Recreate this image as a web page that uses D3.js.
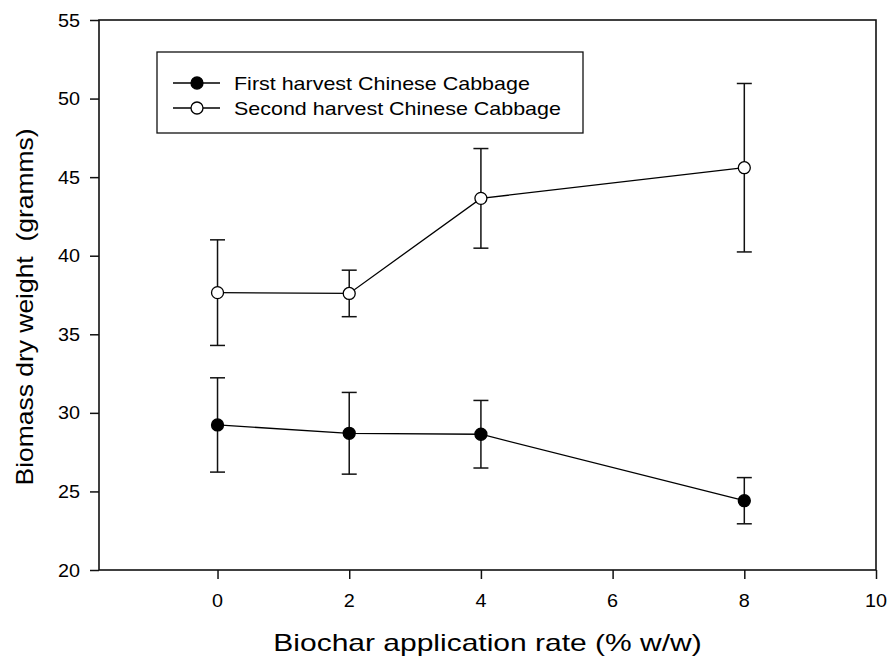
<!DOCTYPE html>
<html>
<head>
<meta charset="utf-8">
<script src="https://cdn.jsdelivr.net/npm/d3@7/dist/d3.min.js"></script>
<style>
  html, body { margin: 0; padding: 0; background: #fff; }
  svg { display: block; font-family: Arial, "Liberation Sans", Helvetica, sans-serif; }
  text { white-space: pre; }
</style>
</head>
<body>
<svg id="chart" width="887" height="658"></svg>
<script>
// Biochar application rates (% w/w)
const rates = [0, 2, 4, 8];

// Mean biomass dry weight (g) and standard deviation per harvest
const firstHarvest = [29.23, 28.7, 28.64, 24.41];
const firstHarvestSd = [3.0, 2.6, 2.15, 1.47];
const secondHarvest = [37.65, 37.6, 43.65, 45.6];
const secondHarvestSd = [3.36, 1.48, 3.17, 5.36];

const xTicks = [0, 2, 4, 6, 8, 10];
const yTicks = [20, 25, 30, 35, 40, 45, 50, 55];

const seriesNames = ["First harvest Chinese Cabbage", "Second harvest Chinese Cabbage"];

const margin = { left: 99, right: 11, top: 20, bottom: 88 };
const W = 887, H = 658;
const svg = d3.select("#chart");

const x = d3.scaleLinear().domain([-1.8, 10]).range([margin.left, W - margin.right]);
const y = d3.scaleLinear().domain([20, 55]).range([H - margin.bottom, margin.top]);

// Text widened along its own direction, anchored at (px, py), optionally rotated
function wideText(parent, px, py, str, size, sx, anchor, angle) {
  const g = parent.append("g")
    .attr("transform", `translate(${px},${py}) rotate(${angle || 0}) scale(${sx},1)`);
  return g.append("text").attr("x", 0).attr("y", 0)
    .attr("font-size", size).attr("text-anchor", anchor || "start")
    .attr("fill", "#000").text(str);
}

// Frame
svg.append("rect")
  .attr("x", x.range()[0]).attr("y", y.range()[1])
  .attr("width", x.range()[1] - x.range()[0])
  .attr("height", y.range()[0] - y.range()[1])
  .attr("fill", "none").attr("stroke", "#111").attr("stroke-width", 1.6);

// Axes (ticks only, labels drawn separately)
const xAxis = svg.append("g").attr("transform", `translate(0,${y.range()[0]})`)
  .call(d3.axisBottom(x).tickValues(xTicks).tickSize(9).tickFormat(""));
const yAxis = svg.append("g").attr("transform", `translate(${x.range()[0]},0)`)
  .call(d3.axisLeft(y).tickValues(yTicks).tickSize(9).tickFormat(""));
[xAxis, yAxis].forEach(a => {
  a.select(".domain").remove();
  a.selectAll(".tick line").attr("stroke", "#111").attr("stroke-width", 1.5);
});

xTicks.forEach(t => wideText(svg, x(t), 607, String(t), 18, 1.1, "middle"));
yTicks.forEach(t => wideText(svg, 80, y(t) + 6.5, String(t), 18, 1.1, "end"));

// Axis titles
wideText(svg, (x.range()[0] + x.range()[1]) / 2, 651, "Biochar application rate (% w/w)", 24, 1.25, "middle");
wideText(svg, 33, 307, "Biomass dry weight  (gramms)", 23, 1.15, "middle", -90);

// Series
const series = [
  { name: seriesNames[0], mean: firstHarvest, sd: firstHarvestSd, fill: "#000" },
  { name: seriesNames[1], mean: secondHarvest, sd: secondHarvestSd, fill: "#fff" }
];

const line = d3.line().x(d => x(d.r)).y(d => y(d.m));

series.forEach(s => {
  const pts = rates.map((r, i) => ({ r, m: s.mean[i], sd: s.sd[i] }));
  const g = svg.append("g");
  g.append("path").datum(pts).attr("d", line)
    .attr("fill", "none").attr("stroke", "#000").attr("stroke-width", 1.3);
  const eb = g.selectAll(".eb").data(pts).enter().append("g");
  eb.append("line")
    .attr("x1", d => x(d.r)).attr("x2", d => x(d.r))
    .attr("y1", d => y(d.m + d.sd)).attr("y2", d => y(d.m - d.sd))
    .attr("stroke", "#111").attr("stroke-width", 1.5);
  [1, -1].forEach(k => {
    eb.append("line")
      .attr("x1", d => x(d.r) - 7.5).attr("x2", d => x(d.r) + 7.5)
      .attr("y1", d => y(d.m + k * d.sd)).attr("y2", d => y(d.m + k * d.sd))
      .attr("stroke", "#111").attr("stroke-width", 1.5);
  });
  g.selectAll("circle").data(pts).enter().append("circle")
    .attr("cx", d => x(d.r)).attr("cy", d => y(d.m)).attr("r", 6)
    .attr("fill", s.fill).attr("stroke", "#000").attr("stroke-width", 1.3);
});

// Legend
const legend = svg.append("g");
legend.append("rect").attr("x", 157).attr("y", 52).attr("width", 426).attr("height", 81)
  .attr("fill", "#fff").attr("stroke", "#111").attr("stroke-width", 1.3);
series.forEach((s, i) => {
  const ly = 83 + i * 25;
  legend.append("line").attr("x1", 173).attr("x2", 220).attr("y1", ly).attr("y2", ly)
    .attr("stroke", "#000").attr("stroke-width", 1.3);
  legend.append("circle").attr("cx", 197).attr("cy", ly).attr("r", 6)
    .attr("fill", s.fill).attr("stroke", "#000").attr("stroke-width", 1.3);
  wideText(legend, 234, ly + 7, s.name, 19, 1.13, "start");
});
</script>
</body>
</html>
